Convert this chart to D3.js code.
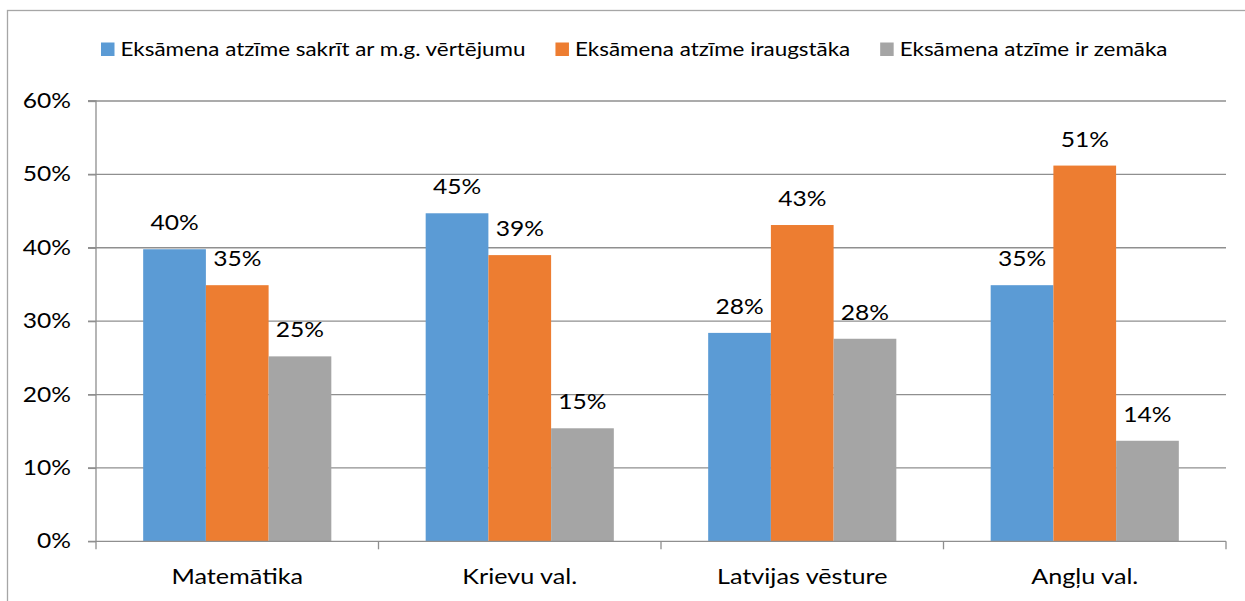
<!DOCTYPE html>
<html>
<head>
<meta charset="utf-8">
<script src="https://cdn.jsdelivr.net/npm/d3@7"></script>
<style>
  html, body { margin: 0; padding: 0; background: #fff; }
  svg { display: block; font-family: Lato, "Noto Sans", sans-serif; }
</style>
</head>
<body>
<svg id="chart" width="1245" height="601"></svg>
<script>
// ---- data ----
const categories = ["Matemātika", "Krievu val.", "Latvijas vēsture", "Angļu val."];
const seriesNames = [
  "Eksāmena atzīme sakrīt ar m.g. vērtējumu",
  "Eksāmena atzīme iraugstāka",
  "Eksāmena atzīme ir zemāka"
];
const seriesSame   = [0.398, 0.447, 0.284, 0.349];
const seriesHigher = [0.349, 0.390, 0.431, 0.512];
const seriesLower  = [0.252, 0.154, 0.276, 0.137];
const yTicks = [0, 0.1, 0.2, 0.3, 0.4, 0.5, 0.6];
const colors = ["#5B9BD5", "#ED7D31", "#A5A5A5"];

const seriesValues = [seriesSame, seriesHigher, seriesLower];

// ---- layout ----
const SX = 1.2;        // horizontal stretch of the text face
const SX_LEGEND = 1.18;
const svg = d3.select("#chart");
const plot = { left: 96, right: 1226, top: 101, bottom: 541.3 };

// chart border
svg.append("rect")
  .attr("x", 7.5).attr("y", 10.5)
  .attr("width", 1300).attr("height", 700)
  .attr("fill", "none").attr("stroke", "#a6a6a6").attr("stroke-width", 1.3);

const x0 = d3.scaleBand().domain(categories).range([plot.left, plot.right]).paddingInner(0).paddingOuter(0);
const groupW = x0.bandwidth() * 0.666;
const x1 = d3.scaleBand().domain(d3.range(seriesNames.length))
  .range([(x0.bandwidth() - groupW) / 2, (x0.bandwidth() + groupW) / 2]).padding(0);
const y = d3.scaleLinear().domain([0, 0.6]).range([plot.bottom, plot.top]);

const gridColor = "#8f8f8f";

// gridlines
svg.append("g").selectAll("line").data(yTicks.filter(d => d > 0)).join("line")
  .attr("x1", plot.left - 8).attr("x2", plot.right)
  .attr("y1", d => y(d)).attr("y2", d => y(d))
  .attr("stroke", gridColor).attr("stroke-width", 1.3);

// y axis
const yAxis = d3.axisLeft(y).tickValues(yTicks).tickFormat(d3.format(".0%")).tickSize(8).tickPadding(17);
const gy = svg.append("g").attr("transform", `translate(${plot.left},0)`).call(yAxis);
gy.select(".domain").attr("stroke", gridColor).attr("stroke-width", 1.3).attr("d", `M-8,${plot.top}H0V${plot.bottom}`);
gy.selectAll(".tick line").attr("stroke", gridColor).attr("stroke-width", 1.3);
gy.selectAll(".tick text").attr("font-size", 20.5).attr("fill", "#000").attr("font-family", "Lato")
  .attr("x", null).attr("dy", "0.32em")
  .attr("transform", `translate(-25,0) scale(${SX},1)`);

// bars
const groups = svg.append("g").selectAll("g").data(categories).join("g")
  .attr("transform", d => `translate(${x0(d)},0)`);
groups.selectAll("rect").data((c, ci) => seriesValues.map((s, si) => ({ si, v: s[ci] }))).join("rect")
  .attr("x", d => x1(d.si)).attr("width", x1.bandwidth())
  .attr("y", d => y(d.v)).attr("height", d => y(0) - y(d.v))
  .attr("fill", d => colors[d.si]);

// value labels
groups.selectAll("text").data((c, ci) => seriesValues.map((s, si) => ({ si, v: s[ci] }))).join("text")
  .attr("transform", d => `translate(${x1(d.si) + x1.bandwidth() / 2},${y(d.v) - 19}) scale(${SX},1)`)
  .attr("text-anchor", "middle")
  .attr("font-size", 20.5).attr("fill", "#000")
  .text(d => d3.format(".0%")(d.v));

// x axis
const xAxis = d3.axisBottom(x0).tickSize(0).tickPadding(28);
const gx = svg.append("g").attr("transform", `translate(0,${plot.bottom})`).call(xAxis);
gx.select(".domain").remove();
gx.selectAll(".tick text").attr("font-size", 21).attr("fill", "#000").attr("font-family", "Lato")
  .attr("y", null).attr("dy", "0.71em")
  .attr("transform", `translate(0,28) scale(${SX},1)`);
svg.append("line").attr("x1", plot.left - 8).attr("x2", plot.right)
  .attr("y1", plot.bottom).attr("y2", plot.bottom)
  .attr("stroke", gridColor).attr("stroke-width", 1.3);
const boundaries = categories.map(c => x0(c)).concat([plot.right]);
svg.append("g").selectAll("line").data(boundaries).join("line")
  .attr("x1", d => d).attr("x2", d => d)
  .attr("y1", plot.bottom).attr("y2", plot.bottom + 8)
  .attr("stroke", gridColor).attr("stroke-width", 1.3);

// legend
const legend = svg.append("g");
let lx = 101;
seriesNames.forEach((name, i) => {
  legend.append("rect").attr("x", lx).attr("y", 42.5).attr("width", 13.5).attr("height", 13.5).attr("fill", colors[i]);
  const t = legend.append("text")
    .attr("transform", `translate(${lx + 19.5},55.5) scale(${SX_LEGEND},1)`)
    .attr("font-size", 19).attr("fill", "#000").text(name);
  lx += 19.5 + t.node().getComputedTextLength() * SX_LEGEND + 30;
});
</script>
</body>
</html>
